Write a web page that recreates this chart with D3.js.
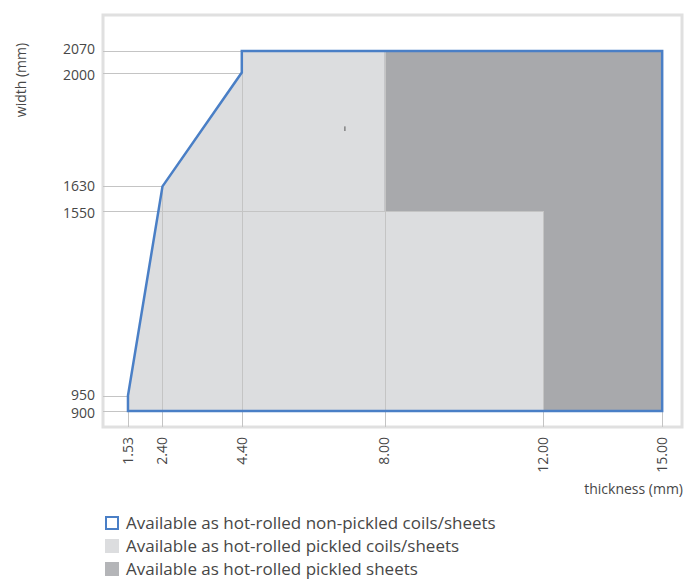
<!DOCTYPE html>
<html>
<head>
<meta charset="utf-8">
<script src="https://cdn.jsdelivr.net/npm/d3@7"></script>
<style>
  body { margin: 0; background: #fff; }
  text { font-family: "Open Sans", "Noto Sans", sans-serif; fill: #474747; font-weight: 400; }
</style>
</head>
<body>
<svg id="chart" width="684" height="581"></svg>
<script>
// tick values on both axes
const thicknessTicks = [1.53, 2.40, 4.40, 8.00, 12.00, 15.00]
const widthTicks = [900, 950, 1550, 1630, 2000, 2070]

// where each grid line stops (top of the pickled area at that thickness / width)
const thicknessGridTop = [900, 1630, 2000, 2070, 1550, 900]
const widthGridEnd = [15.00, 1.53, 12.00, 2.40, 4.40, 4.40]

// non-pickled outline (whole available range)
const outlineThickness = [1.53, 1.53, 2.40, 4.40, 4.40, 15.00, 15.00]
const outlineWidth = [900, 950, 1630, 2000, 2070, 2070, 900]

// pickled sheets only (dark area)
const sheetsThickness = [8.00, 8.00, 15.00, 15.00, 12.00, 12.00]
const sheetsWidth = [1550, 2070, 2070, 900, 900, 1550]

const legendLabels = [
  'Available as hot-rolled non-pickled coils/sheets',
  'Available as hot-rolled pickled coils/sheets',
  'Available as hot-rolled pickled sheets'
]

const blue = '#4a7fc6'
const light = '#dcdddf'
const dark = '#a8a9ac'
const grid = '#c4c4c4'

const svg = d3.select('#chart')

const x = d3.scaleLinear().domain([0.9, 15.5]).range([103, 682])
const y = d3.scaleLinear().domain([848, 2187]).range([427, 15])

const toPoints = (xs, ys) => xs.map((d, i) => [x(d), y(ys[i])])

// frame
svg.append('rect')
  .attr('x', x.range()[0]).attr('y', y.range()[1])
  .attr('width', x.range()[1] - x.range()[0])
  .attr('height', y.range()[0] - y.range()[1])
  .attr('fill', 'none')
  .attr('stroke', '#e0e0e0')
  .attr('stroke-width', 3)

// light area = whole outline
svg.append('path')
  .attr('d', d3.line()(toPoints(outlineThickness, outlineWidth)) + 'Z')
  .attr('fill', light)

// dark area
svg.append('path')
  .attr('d', d3.line()(toPoints(sheetsThickness, sheetsWidth)) + 'Z')
  .attr('fill', dark)

// grid lines
svg.append('g').selectAll('line')
  .data(thicknessTicks)
  .enter()
  .append('line')
  .attr('x1', d => Math.round(x(d)) + 0.5)
  .attr('x2', d => Math.round(x(d)) + 0.5)
  .attr('y1', y.range()[0])
  .attr('y2', (d, i) => y(thicknessGridTop[i]))
  .attr('stroke', grid)
  .attr('stroke-width', 1)

svg.append('g').selectAll('line')
  .data(widthTicks)
  .enter()
  .append('line')
  .attr('x1', x.range()[0])
  .attr('x2', (d, i) => x(widthGridEnd[i]))
  .attr('y1', d => Math.round(y(d)) + 0.5)
  .attr('y2', d => Math.round(y(d)) + 0.5)
  .attr('stroke', grid)
  .attr('stroke-width', 1)

// non-pickled outline
svg.append('path')
  .attr('d', d3.line()(toPoints(outlineThickness, outlineWidth)) + 'Z')
  .attr('fill', 'none')
  .attr('stroke', blue)
  .attr('stroke-width', 2.5)
  .attr('stroke-linejoin', 'miter')

// stray mark in the original picture
svg.append('line')
  .attr('x1', x(7.00)).attr('x2', x(7.00))
  .attr('y1', y(1825)).attr('y2', y(1810))
  .attr('stroke', '#555')
  .attr('stroke-width', 1)

// y tick labels
svg.append('g').selectAll('text')
  .data(widthTicks)
  .enter()
  .append('text')
  .attr('x', 95)
  .attr('y', d => y(d))
  .attr('dy', d => d === 900 ? '0.5em' : d === 950 ? '0.3em' : d === 1550 ? '0.5em' : d === 2000 ? '0.55em' : d === 2070 ? '0.2em' : '0.3em')
  .attr('text-anchor', 'end')
  .attr('font-size', 14)
  .text(d => d)

// x tick labels (rotated)
svg.append('g').selectAll('text')
  .data(thicknessTicks)
  .enter()
  .append('text')
  .attr('transform', d => `translate(${x(d)},437) rotate(-90)`)
  .attr('dy', '0.35em')
  .attr('text-anchor', 'end')
  .attr('font-size', 14)
  .text(d => d.toFixed(2))

// axis titles
svg.append('text')
  .attr('transform', 'translate(21,80) rotate(-90)')
  .attr('dy', '0.35em')
  .attr('text-anchor', 'middle')
  .attr('font-size', 14)
  .text('width (mm)')

svg.append('text')
  .attr('x', 683)
  .attr('y', 494)
  .attr('text-anchor', 'end')
  .attr('font-size', 14)
  .text('thickness (mm)')

// legend
const legend = svg.append('g').attr('transform', 'translate(105,516)')
const rows = legend.selectAll('g')
  .data(legendLabels)
  .enter()
  .append('g')
  .attr('transform', (d, i) => `translate(0,${i * 23})`)

rows.append('rect')
  .attr('x', (d, i) => i === 0 ? 1 : 0)
  .attr('y', (d, i) => i === 0 ? 1 : 0)
  .attr('width', (d, i) => i === 0 ? 12 : 14)
  .attr('height', (d, i) => i === 0 ? 12 : 14)
  .attr('fill', (d, i) => ['#fff', light, '#b4b5b8'][i])
  .attr('stroke', (d, i) => i === 0 ? blue : 'none')
  .attr('stroke-width', 2)

rows.append('text')
  .attr('x', 21)
  .attr('y', 7)
  .attr('dy', '0.36em')
  .attr('font-size', 17)
  .text(d => d)
</script>
</body>
</html>
